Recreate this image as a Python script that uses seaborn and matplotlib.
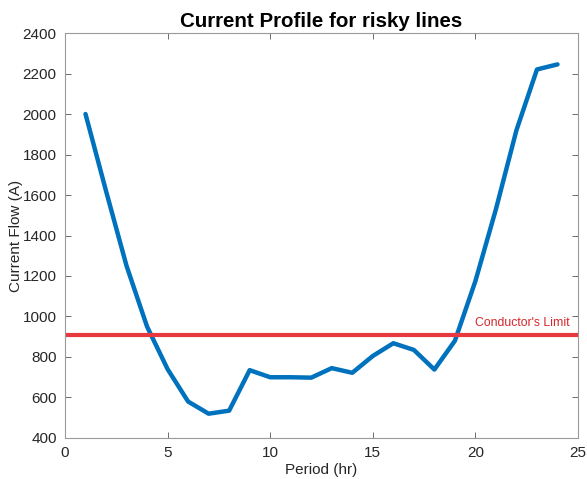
import pandas as pd
import numpy as np
import matplotlib
matplotlib.use("Agg")
import matplotlib.pyplot as plt
import seaborn as sns

# dados
period = list(range(1, 25))
current = [2000, 1620, 1250, 950, 740, 580, 520, 535, 735, 700, 700, 698,
           745, 722, 805, 868, 835, 738, 880, 1175, 1530, 1920, 2220, 2245]
limit = 908

df = pd.DataFrame({"Period": period, "Current": current})

sns.set_theme(style="white")
plt.rcParams["font.family"] = ["Liberation Sans", "DejaVu Sans"]

fig = plt.figure(figsize=(5.87, 4.79), dpi=100)
ax = fig.add_axes([0.1107, 0.0856, 0.874, 0.8455])

sns.lineplot(data=df, x="Period", y="Current", color="#0072BD", linewidth=3.2, ax=ax)
ax.axhline(limit, color="#E8393E", linewidth=3)
ax.text(24.6, limit + 30, "Conductor's Limit", color="#D62728", fontsize=8.8,
        ha="right", va="bottom")

ax.set_xlim(0, 25)
ax.set_ylim(400, 2400)
ax.set_xticks([0, 5, 10, 15, 20, 25])
ax.set_yticks(range(400, 2401, 200))
ax.tick_params(direction="in", length=4, width=0.6, color="#555555",
               labelsize=11, labelcolor="#262626", top=True, right=True,
               bottom=True, left=True, pad=6)
for s in ax.spines.values():
    s.set_color("#9a9a9a")
    s.set_linewidth(0.8)

ax.set_xlabel("Period (hr)", fontsize=11, color="#262626", labelpad=2)
ax.set_ylabel("Current Flow (A)", fontsize=11, color="#262626", labelpad=0)
ax.set_title("Current Profile for risky lines", fontsize=14.8, fontweight="bold",
             color="black", pad=4)

fig.savefig("out.png", dpi=100)
